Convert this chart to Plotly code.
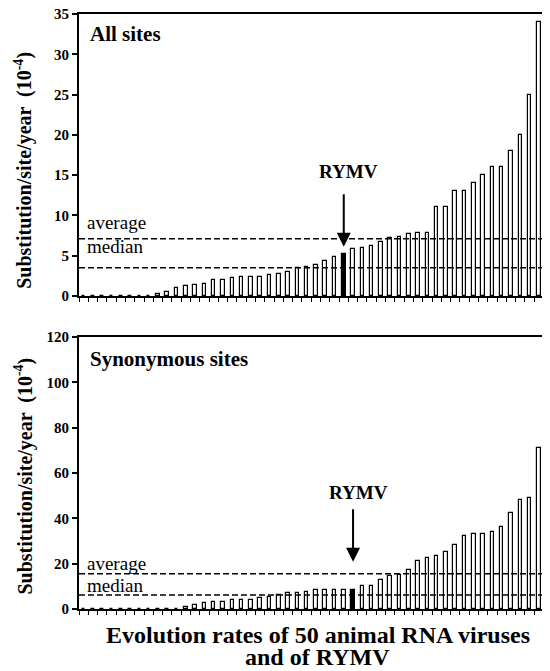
import plotly.graph_objects as go

# ---- data ----
ranks = list(range(51))  # 50 animal RNA viruses + RYMV, sorted by rate
all_sites = [0, 0, 0, 0, 0, 0, 0, 0.05, 0.2, 0.5,
             1.0, 1.25, 1.4, 1.55, 1.95, 1.95, 2.2, 2.3, 2.3, 2.3,
             2.65, 2.75, 3.0, 3.5, 3.6, 3.9, 4.4, 4.9, 5.2, 5.8,
             6.0, 6.2, 6.7, 7.2, 7.3, 7.7, 7.8, 7.8, 11.0, 11.0,
             13.0, 13.0, 14.0, 15.0, 16.0, 16.0, 18.0, 20.0, 25.0, 34.0,
             34.0]
syn_sites = [0, 0, 0, 0, 0, 0, 0, 0, 0, 0,
             0, 1.0, 1.8, 2.6, 3.0, 3.2, 3.8, 4.1, 4.1, 5.0,
             5.4, 6.2, 6.9, 7.2, 7.5, 8.2, 8.2, 8.2, 8.2, 8.5,
             10.3, 10.3, 12.8, 14.4, 15.1, 17.2, 21.3, 22.3, 23.5, 25.1,
             28.3, 32.3, 33.3, 33.3, 34.0, 36.1, 42.4, 48.1, 49.0, 71.1,
             130.0]
rymv_all_idx = 28
rymv_syn_idx = 29
all_avg, all_med = 7.1, 3.5
syn_avg, syn_med = 15.5, 6.2
all_ticks = [0, 5, 10, 15, 20, 25, 30, 35]
syn_ticks = [0, 20, 40, 60, 80, 100, 120]

FONT = "Liberation Serif"
OFF = 8  # page body margin offset
W, H = 550 - OFF, 671 - OFF

def colors(n, idx):
    return ["black" if i == idx else "white" for i in range(n)]

fig = go.Figure()
fig.add_trace(go.Bar(x=ranks, y=all_sites, width=0.38,
                     marker=dict(color=colors(51, rymv_all_idx),
                                 line=dict(color="black", width=1.2)),
                     xaxis="x", yaxis="y", showlegend=False))
fig.add_trace(go.Bar(x=ranks, y=syn_sites, width=0.38,
                     marker=dict(color=colors(51, rymv_syn_idx),
                                 line=dict(color="black", width=1.2)),
                     xaxis="x2", yaxis="y2", showlegend=False))

top_dom = [1 - (296 - OFF) / H, 1 - (14 - OFF) / H]
bot_dom = [1 - (609 - OFF) / H, 1 - (337 - OFF) / H]
xr = [-0.5, 50.2]
xticks = [i - 0.5 for i in range(52)]

xax = dict(range=xr, showline=True, linecolor="black", linewidth=2, mirror=True,
           tickvals=xticks, ticks="outside", ticklen=4, tickwidth=1, tickcolor="black",
           showticklabels=False, showgrid=False, zeroline=False, automargin=False)
yax = dict(showline=True, linecolor="black", linewidth=2, ticks="outside", ticklen=5,
           tickwidth=1.5, tickcolor="black", showgrid=False, zeroline=False,
           automargin=False, ticklabeloverflow="allow",
           tickfont=dict(family=FONT, size=15, color="black", weight="bold"))

fig.update_layout(
    width=W, height=H, autosize=False,
    margin=dict(l=79 - OFF, r=0, t=0, b=0, pad=0),
    paper_bgcolor="white", plot_bgcolor="white",
    bargap=0,
    xaxis=dict(xax, domain=[0, 1], anchor="y"),
    xaxis2=dict(xax, domain=[0, 1], anchor="y2"),
    yaxis=dict(yax, domain=top_dom, range=[0, 35], tickvals=all_ticks, anchor="x"),
    yaxis2=dict(yax, domain=bot_dom, range=[0, 120], tickvals=syn_ticks, anchor="x2"),
)

dash = dict(color="black", width=1.5, dash="6px,3px")
for yref, xref, v in [("y", "x domain", all_avg), ("y", "x domain", all_med),
                      ("y2", "x2 domain", syn_avg), ("y2", "x2 domain", syn_med)]:
    fig.add_shape(type="line", xref=xref, yref=yref, x0=0, x1=1, y0=v, y1=v,
                  line=dash, layer="above")

ann = []
def txt(text, x, y, xref, yref, size, bold=False, xanchor="left", angle=0):
    ann.append(dict(text=text, x=x, y=y, xref=xref, yref=yref, showarrow=False,
                    xanchor=xanchor, yanchor="middle", textangle=angle,
                    font=dict(family=FONT, size=size, color="black",
                              weight="bold" if bold else "normal")))

txt("All sites", 0.019, 0.929, "x domain", "y domain", 21, True)
txt("average", 0.013, 0.262, "x domain", "y domain", 19)
txt("median", 0.013, 0.174, "x domain", "y domain", 19)
txt("Synonymous sites", 0.019, 0.919, "x2 domain", "y2 domain", 21, True)
txt("average", 0.013, 0.169, "x2 domain", "y2 domain", 19)
txt("median", 0.013, 0.088, "x2 domain", "y2 domain", 19)
txt("RYMV", rymv_all_idx + 0.55, 15.4, "x", "y", 19, True, "center")
txt("RYMV", rymv_syn_idx + 0.55, 51.6, "x2", "y2", 19, True, "center")
ylab = "Substitution/site/year  (10<sup>-4</sup>)"
txt(ylab, -0.117, 0.447, "x domain", "y domain", 20, True, "center", -90)
txt(ylab, -0.117, 0.49, "x2 domain", "y2 domain", 20, True, "center", -90)
txt("Evolution rates of 50 animal RNA viruses", 0.507, 1 - (635 - OFF) / H,
    "paper", "paper", 24, True, "center")
txt("and of RYMV", 0.507, 1 - (657 - OFF) / H, "paper", "paper", 24, True, "center")

for xr_, yr_, idx, ytip in [("x", "y", rymv_all_idx, 6.1), ("x2", "y2", rymv_syn_idx, 20.8)]:
    ann.append(dict(x=idx, y=ytip, xref=xr_, yref=yr_, ax=0, ay=-54, text="",
                    showarrow=True, arrowhead=2, arrowsize=1.4, arrowwidth=2,
                    arrowcolor="black"))

fig.update_layout(annotations=ann)
fig.write_html("out.html")
